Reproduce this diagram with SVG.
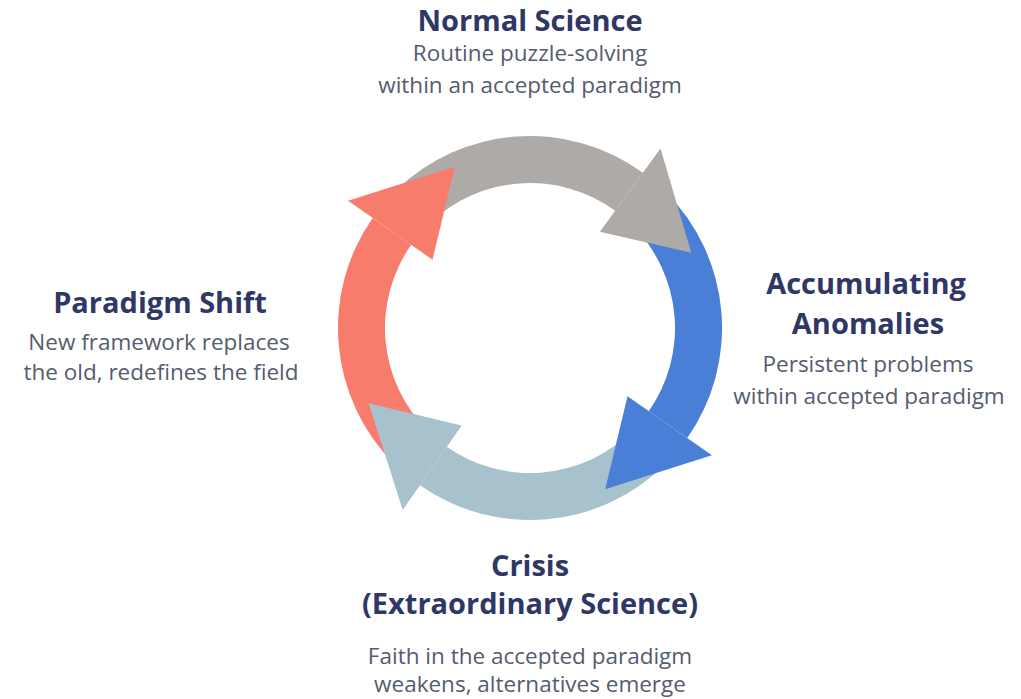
<svg xmlns="http://www.w3.org/2000/svg" width="1021" height="699" viewBox="0 0 1021 699">
<style>
.t{font-family:"Open Sans","Liberation Sans",sans-serif;font-weight:700;font-size:29px;fill:#2f3766;text-anchor:middle}
.s{font-family:"Open Sans","Liberation Sans",sans-serif;font-weight:400;font-size:22.5px;fill:#555c6e;text-anchor:middle}
.gray{fill:#aeaaa8}.blue{fill:#4a7fd8}.lblue{fill:#a8c2cd}.red{fill:#f87c6c}
</style>
<rect width="1021" height="699" fill="#ffffff"/>
<g id="connectors">
<path class="gray" d="M396.6,189.9 A192,192 0 0,1 642.9,172.7 L615.2,210.7 A145,145 0 0,0 429.3,223.7 Z"/>
<path class="blue" d="M665.8,192.2 A192,192 0 0,1 687.3,438.1 L648.8,411.2 A145,145 0 0,0 632.5,225.5 Z"/>
<path class="lblue" d="M665.8,463.8 A192,192 0 0,1 419.9,485.3 L446.8,446.8 A145,145 0 0,0 632.5,430.5 Z"/>
<path class="red" d="M394.2,463.8 A192,192 0 0,1 372.7,217.9 L411.2,244.8 A145,145 0 0,0 427.5,430.5 Z"/>
<polygon class="gray" points="599.9,231.7 660.5,148.4 691.3,252.8"/>
<polygon class="blue" points="627.5,396.3 711.9,455.3 605.2,489.3"/>
<polygon class="lblue" points="461.7,425.5 402.7,509.9 368.7,403.2"/>
<polygon class="red" points="432.5,259.7 348.1,200.7 454.8,166.7"/>
</g>
<g id="normal-science">
<text class="t" x="530" y="31">Normal Science</text>
<text class="s" x="530" y="61">Routine puzzle-solving</text>
<text class="s" x="530" y="93">within an accepted paradigm</text>
</g>
<g id="accumulating-anomalies">
<text class="t" x="866" y="294">Accumulating</text>
<text class="t" x="868" y="334">Anomalies</text>
<text class="s" x="868" y="372">Persistent problems</text>
<text class="s" x="869" y="404">within accepted paradigm</text>
</g>
<g id="crisis">
<text class="t" x="530" y="576">Crisis</text>
<text class="t" x="530" y="614">(Extraordinary Science)</text>
<text class="s" x="530" y="664">Faith in the accepted paradigm</text>
<text class="s" x="530" y="692">weakens, alternatives emerge</text>
</g>
<g id="paradigm-shift">
<text class="t" x="160" y="313">Paradigm Shift</text>
<text class="s" x="159" y="350">New framework replaces</text>
<text class="s" x="161" y="380">the old, redefines the field</text>
</g>
</svg>
